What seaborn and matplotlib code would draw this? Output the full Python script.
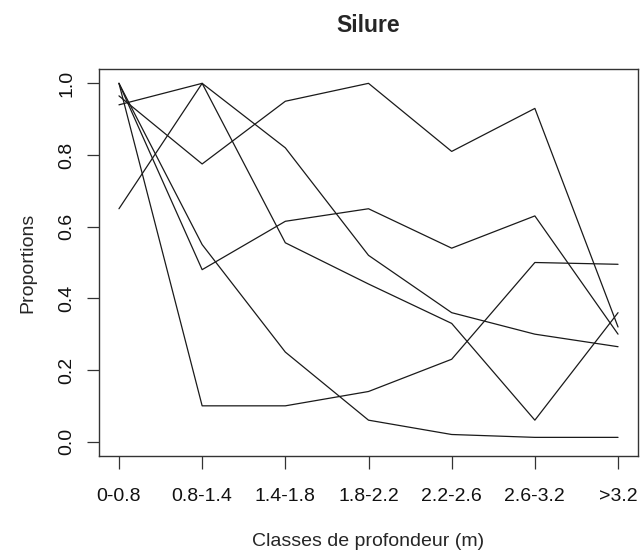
import pandas as pd
import matplotlib
matplotlib.use('Agg')
import matplotlib.pyplot as plt
import seaborn as sns

# classes de profondeur et proportions
classes = ['0-0.8', '0.8-1.4', '1.4-1.8', '1.8-2.2', '2.2-2.6', '2.6-3.2', '>3.2']
serie_1 = [1.00, 0.10, 0.10, 0.14, 0.23, 0.50, 0.495]
serie_2 = [1.00, 0.55, 0.25, 0.06, 0.02, 0.012, 0.012]
serie_3 = [1.00, 0.48, 0.615, 0.65, 0.54, 0.63, 0.30]
serie_4 = [0.65, 1.00, 0.555, 0.44, 0.33, 0.06, 0.36]
serie_5 = [0.94, 1.00, 0.82, 0.52, 0.36, 0.30, 0.265]
serie_6 = [0.965, 0.775, 0.95, 1.00, 0.81, 0.93, 0.32]
y_ticks = [0.0, 0.2, 0.4, 0.6, 0.8, 1.0]

series = [serie_1, serie_2, serie_3, serie_4, serie_5, serie_6]

# format long pour seaborn
rows = []
for i, s in enumerate(series):
    for j, v in enumerate(s):
        rows.append({'serie': i, 'classe': j, 'prop': v})
df = pd.DataFrame(rows)

sns.set_style('white')
plt.rcParams['font.family'] = ['Liberation Sans', 'DejaVu Sans']

fig = plt.figure(figsize=(6.41, 5.59), dpi=100)
ax = fig.add_axes([99 / 641, 103 / 559, 539 / 641, 387 / 559])

sns.lineplot(data=df, x='classe', y='prop', units='serie', estimator=None,
             color='#1a1a1a', lw=0.9, ax=ax, legend=False)

ax.set_xlim(-0.24, 6.24)
ax.set_ylim(-0.04, 1.04)

ax.set_xticks(range(len(classes)))
ax.set_xticklabels(classes)
ax.set_yticks(y_ticks)
ax.set_yticklabels([f'{t:.1f}' for t in y_ticks], rotation=90, va='center')

ax.tick_params(axis='both', direction='out', length=9, width=0.9, color='#333333',
               labelsize=14, labelcolor='#111111', bottom=True, left=True)
ax.tick_params(axis='x', pad=14)
ax.tick_params(axis='y', pad=8)

for sp in ax.spines.values():
    sp.set_visible(True)
    sp.set_color('#333333')
    sp.set_linewidth(1.0)

ax.set_title('Silure', fontsize=16.5, fontweight='bold', pad=27)
ax.set_xlabel('Classes de profondeur (m)', fontsize=14, labelpad=20)
ax.set_ylabel('Proportions', fontsize=14, labelpad=16)

fig.savefig('out.png', dpi=100)
